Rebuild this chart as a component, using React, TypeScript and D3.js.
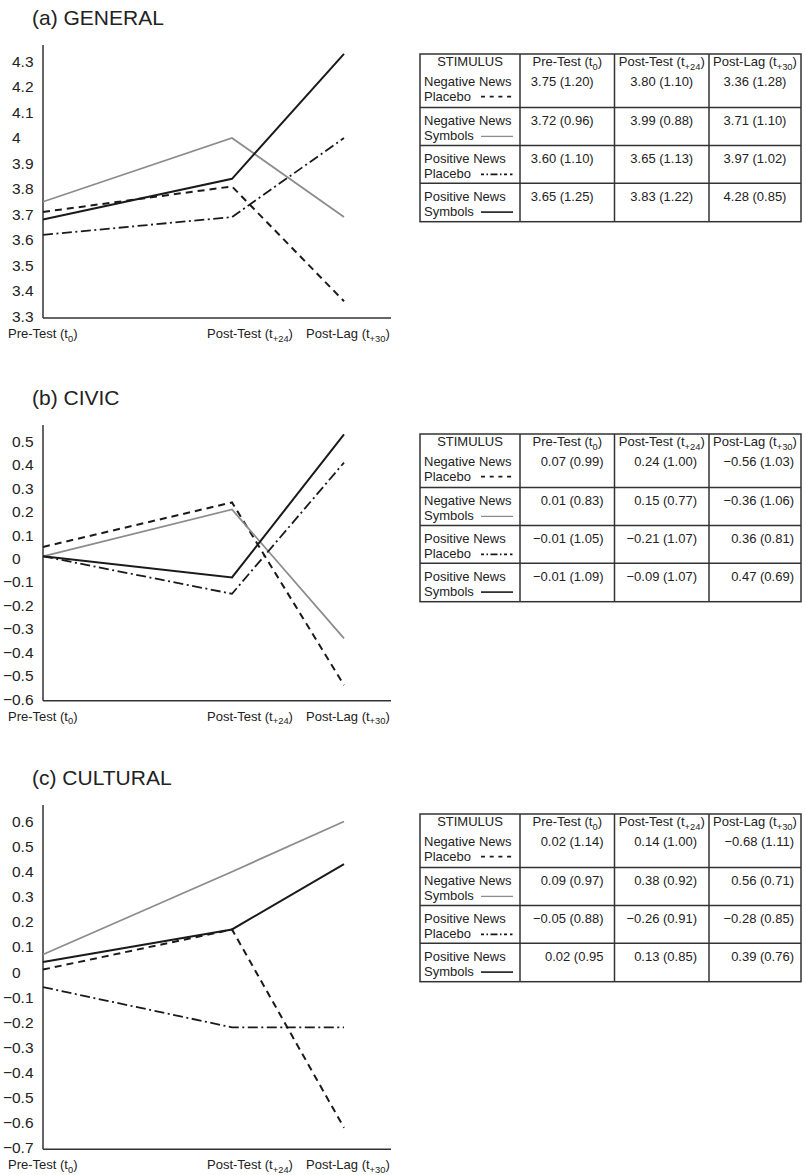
import React from "react";
import * as d3 from "d3";

// time points on the x axis
const timeLabels = [
  { main: "Pre-Test (t", sub: "0" },
  { main: "Post-Test (t", sub: "+24" },
  { main: "Post-Lag (t", sub: "+30" },
];

const stimulusLabels = [
  ["Negative News", "Placebo"],
  ["Negative News", "Symbols"],
  ["Positive News", "Placebo"],
  ["Positive News", "Symbols"],
];

// (a) GENERAL
const generalTicks = [3.3, 3.4, 3.5, 3.6, 3.7, 3.8, 3.9, 4.0, 4.1, 4.2, 4.3];
const generalNegPlacebo = [3.71, 3.81, 3.36];
const generalNegSymbols = [3.75, 4.0, 3.69];
const generalPosPlacebo = [3.62, 3.69, 4.0];
const generalPosSymbols = [3.68, 3.84, 4.33];
const generalTable = [
  ["3.75 (1.20)", "3.80 (1.10)", "3.36 (1.28)"],
  ["3.72 (0.96)", "3.99 (0.88)", "3.71 (1.10)"],
  ["3.60 (1.10)", "3.65 (1.13)", "3.97 (1.02)"],
  ["3.65 (1.25)", "3.83 (1.22)", "4.28 (0.85)"],
];

// (b) CIVIC
const civicTicks = [-0.6, -0.5, -0.4, -0.3, -0.2, -0.1, 0, 0.1, 0.2, 0.3, 0.4, 0.5];
const civicNegPlacebo = [0.05, 0.24, -0.54];
const civicNegSymbols = [0.01, 0.21, -0.34];
const civicPosPlacebo = [0.01, -0.15, 0.41];
const civicPosSymbols = [0.01, -0.08, 0.53];
const civicTable = [
  ["0.07 (0.99)", "0.24 (1.00)", "\u22120.56 (1.03)"],
  ["0.01 (0.83)", "0.15 (0.77)", "\u22120.36 (1.06)"],
  ["\u22120.01 (1.05)", "\u22120.21 (1.07)", "0.36 (0.81)"],
  ["\u22120.01 (1.09)", "\u22120.09 (1.07)", "0.47 (0.69)"],
];

// (c) CULTURAL
const culturalTicks = [-0.7, -0.6, -0.5, -0.4, -0.3, -0.2, -0.1, 0, 0.1, 0.2, 0.3, 0.4, 0.5, 0.6];
const culturalNegPlacebo = [0.01, 0.17, -0.62];
const culturalNegSymbols = [0.07, 0.4, 0.6];
const culturalPosPlacebo = [-0.06, -0.22, -0.22];
const culturalPosSymbols = [0.04, 0.17, 0.43];
const culturalTable = [
  ["0.02 (1.14)", "0.14 (1.00)", "\u22120.68 (1.11)"],
  ["0.09 (0.97)", "0.38 (0.92)", "0.56 (0.71)"],
  ["\u22120.05 (0.88)", "\u22120.26 (0.91)", "\u22120.28 (0.85)"],
  ["0.02 (0.95", "0.13 (0.85)", "0.39 (0.76)"],
];

const FONT = "'Liberation Sans', Arial, Helvetica, sans-serif";
const INK = "#1a1a1a";

const seriesStyles = [
  { stroke: INK, width: 2, dash: "7,5", legend: "4,4.7" },
  { stroke: "#8c8c8c", width: 1.8, dash: null, legend: null },
  { stroke: INK, width: 1.8, dash: "10,3.5,2,3.5", legend: "3,2.5,1.5,2.5,7,2.5,1.5,2.5,3" },
  { stroke: INK, width: 2, dash: null, legend: null },
];

const fmt = d3.format(".1~f");

const Sub = ({ main, sub, size }: { main: string; sub: string; size: number }) => (
  <>
    <tspan>{main}</tspan>
    <tspan dy={size * 0.28} fontSize={size * 0.72}>{sub}</tspan>
    <tspan dy={-size * 0.28}>)</tspan>
  </>
);

const Panel = ({ top, title, ticks, series, table, axisY, valueAlign }: any) => {
  const left = 43;
  const axisRight = 391;
  const x = d3.scaleLinear().domain([0, 1, 2]).range([left, 232, 344]);
  const y = d3
    .scaleLinear()
    .domain([ticks[0], ticks[ticks.length - 1]])
    .range([axisY - 1.5, 61.5]);
  const line = d3
    .line<number>()
    .x((_, i) => x(i))
    .y((d) => y(d));

  // table geometry
  const tTop = 54;
  const cols = [420, 520, 614.5, 709, 801];
  const rows = [0, 53.5, 91.5, 129.2, 167.7];
  const rightPads = valueAlign === "center" ? null : [11, 12, 7];

  const labelX = [x(0) - 35, x(1) - 25, x(2) - 38];

  return (
    <g transform={`translate(0,${top})`}>
      <text x={32} y={24.5} fontSize={21} fill="#222">
        {title}
      </text>

      {/* axes */}
      <line x1={left} x2={left} y1={45} y2={axisY} stroke="#333" strokeWidth={1.5} />
      <line x1={left} x2={axisRight} y1={axisY} y2={axisY} stroke="#333" strokeWidth={1.5} />

      {ticks.map((t: number) => (
        <g key={t} fontSize={15.5} fill="#222">
          {t < 0 && (
            <text x={12} y={y(t)} dy="0.35em" textAnchor="end">
              {"\u2212"}
            </text>
          )}
          <text x={12} y={y(t)} dy="0.35em">
            {fmt(Math.abs(t))}
          </text>
        </g>
      ))}

      {timeLabels.map((l, i) => (
        <text key={i} x={labelX[i]} y={axisY + 20} fontSize={13} fill="#222">
          <Sub main={l.main} sub={l.sub} size={13} />
        </text>
      ))}

      {series.map((s: number[], i: number) => (
        <path
          key={i}
          d={line(s) || ""}
          fill="none"
          stroke={seriesStyles[i].stroke}
          strokeWidth={seriesStyles[i].width}
          strokeDasharray={seriesStyles[i].dash || undefined}
          strokeLinejoin="miter"
        />
      ))}

      {/* table */}
      <g transform={`translate(0,${tTop})`} fontSize={13} fill="#222">
        <rect x={cols[0]} y={0} width={cols[4] - cols[0]} height={rows[4]} fill="none" stroke="#333" strokeWidth={1.5} />
        {cols.slice(1, 4).map((c) => (
          <line key={c} x1={c} x2={c} y1={0} y2={rows[4]} stroke="#333" strokeWidth={1.5} />
        ))}
        {rows.slice(1, 4).map((r) => (
          <line key={r} x1={cols[0]} x2={cols[4]} y1={r} y2={r} stroke="#333" strokeWidth={1.5} />
        ))}
        <text x={(cols[0] + cols[1]) / 2} y={12.3} textAnchor="middle">
          STIMULUS
        </text>
        {timeLabels.map((l, j) => (
          <text key={j} x={(cols[j + 1] + cols[j + 2]) / 2} y={12.3} textAnchor="middle">
            <Sub main={l.main} sub={l.sub} size={13} />
          </text>
        ))}
        {stimulusLabels.map((lab, i) => {
          const base = i === 0 ? 31.6 : rows[i] + 17.9;
          const st = seriesStyles[i];
          return (
            <g key={i}>
              <text x={cols[0] + 4} y={base}>
                {lab[0]}
              </text>
              <text x={cols[0] + 4} y={base + 15}>
                {lab[1]}
              </text>
              <line
                x1={481}
                x2={513}
                y1={base + 15 - 4}
                y2={base + 15 - 4}
                stroke={st.stroke}
                strokeWidth={i === 1 ? 1.3 : 1.6}
                strokeDasharray={st.legend || undefined}
              />
              {table[i].map((v: string, j: number) =>
                rightPads ? (
                  <text key={j} x={cols[j + 2] - rightPads[j]} y={base} textAnchor="end">
                    {v}
                  </text>
                ) : (
                  <text key={j} x={(cols[j + 1] + cols[j + 2]) / 2 - (j === 0 ? 5 : 0)} y={base} textAnchor="middle">
                    {v}
                  </text>
                )
              )}
            </g>
          );
        })}
      </g>
    </g>
  );
};

export default function App() {
  return (
    <svg
      width={806}
      height={1175}
      style={{ position: "absolute", left: 0, top: 0, background: "#fff" }}
      fontFamily={FONT}
    >
      <rect width={806} height={1175} fill="#fff" />
      <Panel
        top={0}
        title="(a) GENERAL"
        ticks={generalTicks}
        series={[generalNegPlacebo, generalNegSymbols, generalPosPlacebo, generalPosSymbols]}
        table={generalTable}
        axisY={318}
        valueAlign="center"
      />
      <Panel
        top={380}
        title="(b) CIVIC"
        ticks={civicTicks}
        series={[civicNegPlacebo, civicNegSymbols, civicPosPlacebo, civicPosSymbols]}
        table={civicTable}
        axisY={320.7}
        valueAlign="right"
      />
      <Panel
        top={760}
        title="(c) CULTURAL"
        ticks={culturalTicks}
        series={[culturalNegPlacebo, culturalNegSymbols, culturalPosPlacebo, culturalPosSymbols]}
        table={culturalTable}
        axisY={389.3}
        valueAlign="right"
      />
    </svg>
  );
}
